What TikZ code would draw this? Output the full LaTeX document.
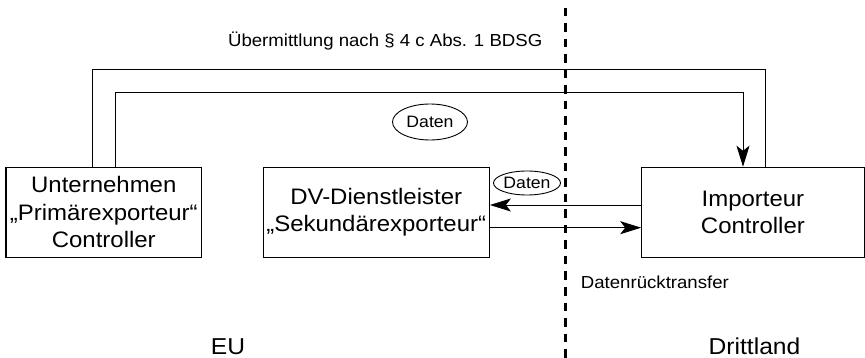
\documentclass[tikz,border=0pt]{standalone}
\usepackage{fontspec}
\setmainfont{Liberation Sans}[FakeStretch=1.07]
\usetikzlibrary{arrows.meta,shapes.geometric}
\begin{document}
\begin{tikzpicture}[x=1pt,y=-1pt,
  box/.style={draw,line width=1.1pt,inner sep=0pt,minimum height=90pt,align=center,font=\fontsize{22.4}{27.5}\selectfont},
  conn/.style={line width=0.9pt},
  tip/.style={-{Stealth[length=21pt,width=13pt,inset=5pt]}},
  oval/.style={draw,ellipse,line width=0.9pt,inner sep=0pt,font=\fontsize{16.5}{18}\selectfont},
  small/.style={font=\fontsize{17.4}{20}\selectfont,inner sep=0pt},
  region/.style={font=\fontsize{23}{27}\selectfont,inner sep=0pt},
  border/.style={line width=3pt,dash pattern=on 8.5pt off 7pt}]
\useasboundingbox (0,0) rectangle (865,358);
% boxes
\node[box,minimum width=195.7pt] (A) at (103.8,212.3) {Unternehmen\\„Primärexporteur“\\Controller};
\node[box,minimum width=226.3pt] (B) at (376.2,212.3) {DV-Dienstleister\\„Sekundärexporteur“};
\node[box,minimum width=222.3pt] (C) at (752.9,212.3) {Importeur\\Controller};
% routing coordinates
\coordinate (o1) at (92.7,69.3);
\coordinate (o2) at (765.7,69.3);
\coordinate (i1) at (115.3,92.3);
\coordinate (i2) at (743,92.3);
\coordinate (h1) at (0,205);
\coordinate (h2) at (0,227.7);
% connectors
\draw[conn] (A.north -| o1) -- (o1) -- (o2) -- (C.north -| o2);
\draw[conn,tip] (A.north -| i1) -- (i1) -- (i2) -- (C.north -| i2);
\draw[conn,tip] (C.west |- h1) -- (B.east |- h1);
\draw[conn,tip] (B.east |- h2) -- (C.west |- h2);
% labels
\node[oval,minimum width=75pt,minimum height=36pt] (d1) at (430,122) {Daten};
\node[oval,minimum width=67pt,minimum height=24pt] (d2) at (527,183) {Daten};
\node[small,anchor=base] (t1) at (385.2,47) {Übermittlung nach § 4 c Abs. 1 BDSG};
\node[small,anchor=base] (t2) at (654.9,288) {Datenrücktransfer};
\node[region,anchor=base] (eu) at (228,354.5) {EU};
\node[region,anchor=base] (dl) at (754.5,354.5) {Drittland};
% border
\coordinate (b1) at (565.8,8);
\coordinate (b2) at (565.8,358);
\draw[border] (b1) -- (b2);
\end{tikzpicture}
\end{document}
